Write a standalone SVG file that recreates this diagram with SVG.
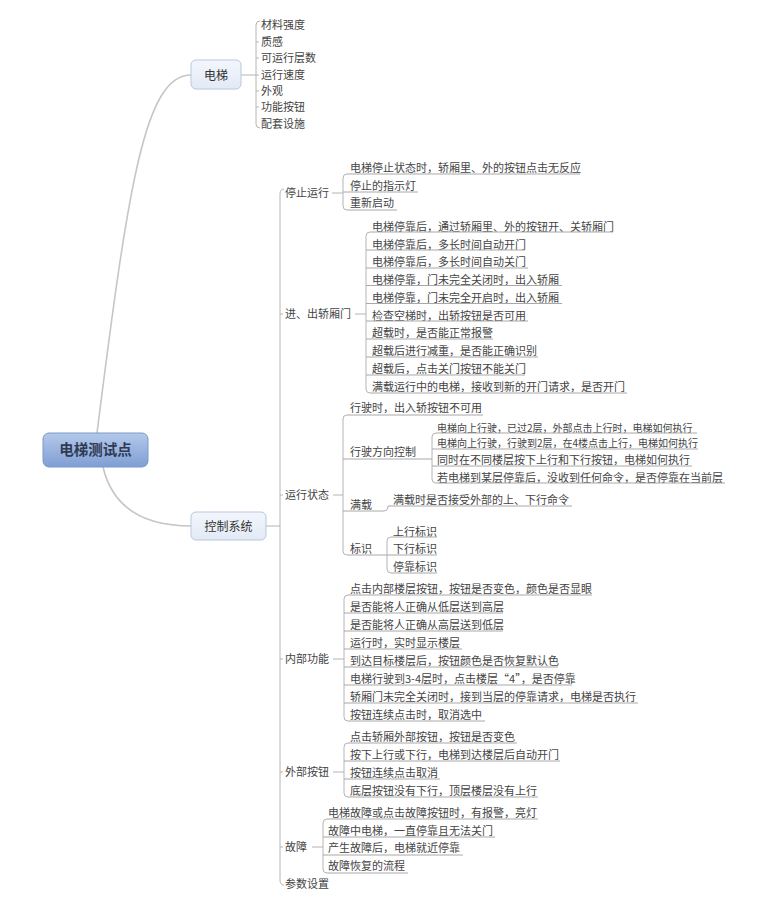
<svg xmlns="http://www.w3.org/2000/svg" width="757" height="910" viewBox="0 0 757 910">
<style>
.t{font-family:"Noto Sans CJK SC","Liberation Sans",sans-serif;font-size:11px;fill:#444}
.s{font-size:10px}
.n{font-size:12px;fill:#333;text-anchor:middle}
.r{font-size:14.5px;fill:#2f3b55;text-anchor:middle;font-weight:bold}
.ul{stroke:#a8a8a8;stroke-width:1;fill:none}
.ln{stroke:#b4b4b4;stroke-width:1;fill:none}
.cv{stroke:#c6c6c6;stroke-width:1.6;fill:none}
.box{fill:url(#gl);stroke:#b9c7de;stroke-width:1}
</style>
<defs>
<linearGradient id="gr" x1="0" y1="0" x2="0" y2="1">
<stop offset="0" stop-color="#b4c9ea"/>
<stop offset="1" stop-color="#7f9ed3"/>
</linearGradient>
<linearGradient id="gl" x1="0" y1="0" x2="0" y2="1">
<stop offset="0" stop-color="#f3f6fc"/>
<stop offset="1" stop-color="#e2eaf6"/>
</linearGradient>
</defs>
<rect width="757" height="910" fill="#fff"/>

<g id="connectors">
<path class="cv" d="M97 433 C128.5 183 145 75 191 75"/>
<path class="cv" d="M103 467 C112 505 140 526 191 526"/>
<path class="ln" d="M241 75 H256"/>
<path class="ln" d="M260 21 Q256 21 256 25 V124 Q256 128 260 128"/>
<path class="ln" d="M256 42 H259 M256 58 H259 M256 75 H259 M256 91 H259 M256 107 H259"/>
<path class="ln" d="M266 526 H280"/>
<path class="ln" d="M284 189 Q280 189 280 194 V880 Q280 885 284 885"/>
<path class="ln" d="M280 314 H283 M280 495 H283 M280 659 H283 M280 772 H283 M280 847 H283"/>
<path class="ln" d="M332 193 H343 M355 314 H366 M333 495 H343 M333 659 H344 M333 772 H344 M312 847 H323"/>
<path class="ln" d="M347 174 Q343 174 343 178 V206 Q343 210 347 210"/>
<path class="ln" d="M370 232 Q366 232 366 236 V389 Q366 393 370 393"/>
<path class="ln" d="M347 415 Q343 415 343 419 V551 Q343 555 347 555"/>
<path class="ln" d="M436 433 Q432 433 432 437 V479 Q432 483 436 483"/>
<path class="ln" d="M384 511 Q388 511 388 507 V506"/>
<path class="ln" d="M391 537 Q387 537 387 541 V569 Q387 573 391 573"/>
<path class="ln" d="M348 595 Q344 595 344 599 V717 Q344 721 348 721"/>
<path class="ln" d="M348 743 Q344 743 344 747 V793 Q344 797 348 797"/>
<path class="ln" d="M327 819 Q323 819 323 823 V869 Q323 873 327 873"/>
</g>

<g id="root">
<rect x="43" y="433" width="105" height="34" rx="6" fill="url(#gr)" stroke="#7d99c8"/>
<text class="t r" x="95.5" y="455">电梯测试点</text>
</g>
<g id="elevator">
<rect class="box" x="191" y="60" width="50" height="29" rx="5"/>
<text class="t n" x="216" y="79.5">电梯</text>
</g>
<g id="control">
<rect class="box" x="191" y="512" width="75" height="28" rx="5"/>
<text class="t n" x="228.5" y="530.5">控制系统</text>
</g>

<g id="elevator-items">
<text class="t" x="261" y="29">材料强度</text>
<text class="t" x="261" y="46">质感</text>
<text class="t" x="261" y="62">可运行层数</text>
<text class="t" x="261" y="79">运行速度</text>
<text class="t" x="261" y="95">外观</text>
<text class="t" x="261" y="111">功能按钮</text>
<text class="t" x="261" y="128">配套设施</text>
</g>

<g id="stop">
<text class="t" x="285" y="197">停止运行</text>
</g>
<g id="stop-items">
<text class="t" x="350" y="172">电梯停止状态时，轿厢里、外的按钮点击无反应</text>
<path class="ul" d="M347 174 H580"/>
<text class="t" x="350" y="190">停止的指示灯</text>
<path class="ul" d="M343 192 H418"/>
<text class="t" x="350" y="207">重新启动</text>
<path class="ul" d="M347 210 H397"/>
</g>

<g id="door">
<text class="t" x="285" y="318">进、出轿厢门</text>
</g>
<g id="door-items">
<text class="t" x="372" y="231">电梯停靠后，通过轿厢里、外的按钮开、关轿厢门</text>
<path class="ul" d="M370 232 H613"/>
<text class="t" x="372" y="249">电梯停靠后，多长时间自动开门</text>
<path class="ul" d="M366 250 H525"/>
<text class="t" x="372" y="266">电梯停靠后，多长时间自动关门</text>
<path class="ul" d="M366 268 H528"/>
<text class="t" x="372" y="284">电梯停靠，门未完全关闭时，出入轿厢</text>
<path class="ul" d="M366 285.5 H562"/>
<text class="t" x="372" y="302">电梯停靠，门未完全开启时，出入轿厢</text>
<path class="ul" d="M366 303.5 H562"/>
<text class="t" x="372" y="320">检查空梯时，出轿按钮是否可用</text>
<path class="ul" d="M366 321 H528"/>
<text class="t" x="372" y="337">超载时，是否能正常报警</text>
<path class="ul" d="M366 339 H493"/>
<text class="t" x="372" y="355">超载后进行减重，是否能正确识别</text>
<path class="ul" d="M366 357 H538"/>
<text class="t" x="372" y="373">超载后，点击关门按钮不能关门</text>
<path class="ul" d="M366 375 H525"/>
<text class="t" x="372" y="391">满载运行中的电梯，接收到新的开门请求，是否开门</text>
<path class="ul" d="M370 393 H627"/>
</g>

<g id="running">
<text class="t" x="285" y="499">运行状态</text>
</g>
<g id="running-items">
<text class="t" x="350" y="412">行驶时，出入轿按钮不可用</text>
<path class="ul" d="M347 415 H483"/>
<text class="t" x="350" y="456">行驶方向控制</text>
<path class="ul" d="M343 459 H432"/>
<text class="t" x="350" y="509">满载</text>
<path class="ul" d="M343 511 H384"/>
<text class="t" x="350" y="553">标识</text>
<path class="ul" d="M347 555 H387"/>
</g>
<g id="direction-items">
<text class="t s" x="437" y="432">电梯向上行驶，已过2层，外部点击上行时，电梯如何执行</text>
<path class="ul" d="M436 433 H697"/>
<text class="t s" x="437" y="447">电梯向上行驶，行驶到2层，在4楼点击上行，电梯如何执行</text>
<path class="ul" d="M432 449 H698"/>
<text class="t" x="437" y="464">同时在不同楼层按下上行和下行按钮，电梯如何执行</text>
<path class="ul" d="M432 466 H692"/>
<text class="t" x="437" y="482">若电梯到某层停靠后，没收到任何命令，是否停靠在当前层</text>
<path class="ul" d="M436 483 H725"/>
</g>
<g id="full-items">
<text class="t" x="393" y="504">满载时是否接受外部的上、下行命令</text>
<path class="ul" d="M388 506 H572"/>
</g>
<g id="sign-items">
<text class="t" x="393" y="536">上行标识</text>
<path class="ul" d="M391 537 H437"/>
<text class="t" x="393" y="553">下行标识</text>
<path class="ul" d="M387 555 H437"/>
<text class="t" x="393" y="571">停靠标识</text>
<path class="ul" d="M391 573 H437"/>
</g>

<g id="inner">
<text class="t" x="285" y="663">内部功能</text>
</g>
<g id="inner-items">
<text class="t" x="350" y="593">点击内部楼层按钮，按钮是否变色，颜色是否显眼</text>
<path class="ul" d="M348 595 H592"/>
<text class="t" x="350" y="611">是否能将人正确从低层送到高层</text>
<path class="ul" d="M344 613 H503"/>
<text class="t" x="350" y="629">是否能将人正确从高层送到低层</text>
<path class="ul" d="M344 631 H503"/>
<text class="t" x="350" y="647">运行时，实时显示楼层</text>
<path class="ul" d="M344 649 H462"/>
<text class="t" x="350" y="665">到达目标楼层后，按钮颜色是否恢复默认色</text>
<path class="ul" d="M344 667 H558"/>
<text class="t" x="350" y="683">电梯行驶到3-4层时，点击楼层“4”，是否停靠</text>
<path class="ul" d="M344 685 H572"/>
<text class="t" x="350" y="701">轿厢门未完全关闭时，接到当层的停靠请求，电梯是否执行</text>
<path class="ul" d="M344 703 H638"/>
<text class="t" x="350" y="719">按钮连续点击时，取消选中</text>
<path class="ul" d="M348 721 H485"/>
</g>

<g id="outer">
<text class="t" x="285" y="776">外部按钮</text>
</g>
<g id="outer-items">
<text class="t" x="350" y="741">点击轿厢外部按钮，按钮是否变色</text>
<path class="ul" d="M348 743 H517"/>
<text class="t" x="350" y="759">按下上行或下行，电梯到达楼层后自动开门</text>
<path class="ul" d="M344 761 H560"/>
<text class="t" x="350" y="777">按钮连续点击取消</text>
<path class="ul" d="M344 779 H440"/>
<text class="t" x="350" y="795">底层按钮没有下行，顶层楼层没有上行</text>
<path class="ul" d="M348 797 H538"/>
</g>

<g id="fault">
<text class="t" x="285" y="851">故障</text>
</g>
<g id="fault-items">
<text class="t" x="328" y="817">电梯故障或点击故障按钮时，有报警，亮灯</text>
<path class="ul" d="M327 819 H538"/>
<text class="t" x="328" y="835">故障中电梯，一直停靠且无法关门</text>
<path class="ul" d="M323 837 H495"/>
<text class="t" x="328" y="852">产生故障后，电梯就近停靠</text>
<path class="ul" d="M323 855 H463"/>
<text class="t" x="328" y="870">故障恢复的流程</text>
<path class="ul" d="M327 873 H408"/>
</g>

<g id="params">
<text class="t" x="285" y="888">参数设置</text>
</g>
</svg>
